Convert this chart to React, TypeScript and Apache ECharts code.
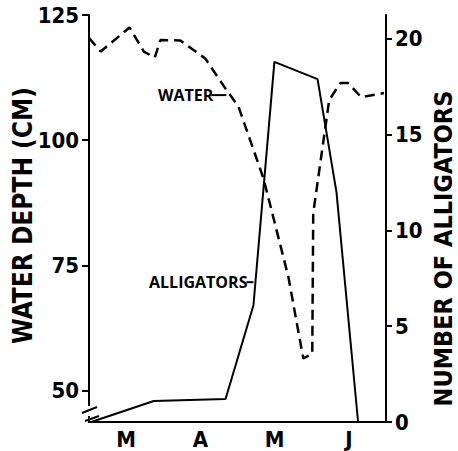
import React, { useEffect, useRef } from "react";
import * as echarts from "echarts";

// Months along the x axis (0 = start of March, 4 = end of June)
const monthLabels = ["M", "A", "M", "J"];

// Water depth (cm), x in months from start of March
const waterMonth = [0, 0.157, 0.546, 0.738, 0.886, 0.962, 1.231, 1.566, 1.834, 2.013, 2.349, 2.685, 2.886, 3.007, 3.02, 3.235, 3.383, 3.49, 3.664, 3.973];
const waterDepth = [120.4, 117.7, 122.5, 117.7, 116.5, 120.0, 119.9, 116.3, 110.4, 106.7, 92.4, 72.7, 56.4, 57.3, 85.4, 108.0, 111.4, 111.4, 108.6, 109.4];

// Number of alligators
const gatorMonth = [0.03, 0.872, 1.839, 2.215, 2.497, 3.078, 3.333, 3.624];
const gatorCount = [0, 1.1, 1.2, 6.1, 18.8, 17.9, 12.0, 0];

const depthTicks = [50, 75, 100, 125];
const countTicks = [0, 5, 10, 15, 20];
const depthRange = [43.7, 125];
const countRange = [0, 21.25];

const FONT = '"DejaVu Sans Condensed", "DejaVu Sans", sans-serif';
const LABEL_FONT = '"Open Sans", sans-serif';

export default function App() {
  const ref = useRef<HTMLDivElement>(null);
  useEffect(() => {
    const chart = echarts.init(ref.current!, null, { renderer: "svg" });
    const axisLineStyle = { color: "#000", width: 2 };
    const tickLabel = { color: "#000", fontFamily: FONT, fontWeight: "bold" as const, fontSize: 22 };
    const nameStyle = { color: "#000", fontFamily: FONT, fontWeight: "bold" as const, fontSize: 26 };
    const option: any = {
      animation: false,
      backgroundColor: "#fff",
      grid: { left: 89, right: 72, top: 15, bottom: 29, containLabel: false, outerBoundsMode: "none" },
      xAxis: [
        {
          type: "category",
          data: monthLabels,
          boundaryGap: true,
          position: "bottom",
          axisLine: { lineStyle: axisLineStyle },
          axisTick: { length: 8, lineStyle: axisLineStyle },
          axisLabel: { ...tickLabel, fontSize: 22, lineHeight: 20, margin: 7 },
          splitLine: { show: false },
        },
        { type: "value", min: 0, max: 4, show: false },
      ],
      yAxis: [
        {
          type: "value",
          min: depthRange[0],
          max: depthRange[1],
          position: "left",
          name: "WATER DEPTH (CM)",
          nameLocation: "middle",
          nameRotate: 90,
          nameGap: 53,
          nameMoveOverlap: false,
          nameTextStyle: { ...nameStyle, padding: [0, 0, 0, 6] },
          axisLine: { show: true, lineStyle: axisLineStyle },
          axisTick: { show: true, length: 7, lineStyle: axisLineStyle, customValues: depthTicks },
          axisLabel: { ...tickLabel, margin: 10, customValues: depthTicks },
          splitLine: { show: false },
        },
        {
          type: "value",
          min: countRange[0],
          max: countRange[1],
          position: "right",
          name: "NUMBER OF ALLIGATORS",
          nameLocation: "middle",
          nameRotate: 90,
          nameGap: 47,
          nameMoveOverlap: false,
          nameTextStyle: { ...nameStyle, fontSize: 25, lineHeight: 20, padding: [0, 60, 0, 0] },
          axisLine: { show: true, lineStyle: axisLineStyle },
          axisTick: { show: true, length: 6, lineStyle: axisLineStyle, customValues: countTicks },
          axisLabel: { ...tickLabel, margin: 9, customValues: countTicks },
          splitLine: { show: false },
        },
      ],
      series: [
        {
          type: "line",
          xAxisIndex: 1,
          yAxisIndex: 0,
          data: waterMonth.map((m, i) => [m, waterDepth[i]]),
          symbol: "none",
          lineStyle: { color: "#000", width: 2.5, type: [10, 6] },
          markPoint: {
            silent: true,
            symbol: "rect",
            symbolSize: [15, 2],
            symbolOffset: [-7.5, 0],
            itemStyle: { color: "#000" },
            label: { show: true, position: "left", distance: -2, formatter: "WATER", color: "#000", fontFamily: LABEL_FONT, fontWeight: "bold", fontSize: 16 },
            data: [{ coord: [1.85, 109.0] }],
          },
        },
        {
          type: "line",
          xAxisIndex: 1,
          yAxisIndex: 1,
          data: gatorMonth.map((m, i) => [m, gatorCount[i]]),
          symbol: "none",
          lineStyle: { color: "#000", width: 2 },
          markPoint: {
            silent: true,
            symbol: "rect",
            symbolSize: [7, 2],
            symbolOffset: [-3.5, 0],
            itemStyle: { color: "#000" },
            label: { show: true, position: "left", distance: -1, formatter: "ALLIGATORS", color: "#000", fontFamily: LABEL_FONT, fontWeight: "bold", fontSize: 16 },
            data: [{ coord: [2.215, 7.3] }],
          },
        },
      ],
      graphic: [
        { type: "rect", z: 100, shape: { x: 82, y: 406, width: 14, height: 10 }, style: { fill: "#fff" } },
        { type: "line", z: 101, shape: { x1: 82, y1: 413, x2: 97, y2: 407 }, style: { stroke: "#000", lineWidth: 2 } },
        { type: "line", z: 101, shape: { x1: 85, y1: 421, x2: 99, y2: 416 }, style: { stroke: "#000", lineWidth: 2 } },
      ],
    };
    chart.setOption(option);
    return () => chart.dispose();
  }, []);
  return <div ref={ref} style={{ position: "absolute", left: 0, top: 0, width: 458, height: 451 }} />;
}
